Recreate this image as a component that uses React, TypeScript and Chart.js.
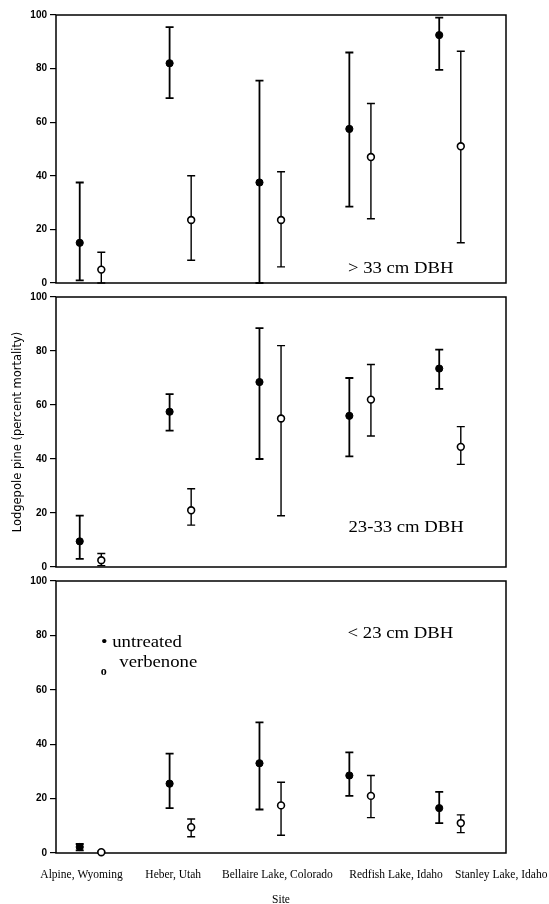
import React, { useEffect, useRef } from "react";
import { Chart, registerables } from "chart.js";

Chart.register(...registerables);

// ---------- data ----------
const sites = [
  "Alpine, Wyoming",
  "Heber, Utah",
  "Bellaire Lake, Colorado",
  "Redfish Lake, Idaho",
  "Stanley Lake, Idaho",
];
// where the site names sit on the x axis (site index units)
const siteLabelAt = [-0.1, 0.92, 2.08, 3.4, 4.57];
const yTicks = [0, 20, 40, 60, 80, 100];

// > 33 cm DBH
const untreatedLarge = [15, 82, 37.5, 57.5, 92.5];
const untreatedLargeLow = [1, 69, 0, 28.5, 79.5];
const untreatedLargeHigh = [37.5, 95.5, 75.5, 86, 99];
const verbenoneLarge = [5, 23.5, 23.5, 47, 51];
const verbenoneLargeLow = [0, 8.5, 6, 24, 15];
const verbenoneLargeHigh = [11.5, 40, 41.5, 67, 86.5];

// 23-33 cm DBH
const untreatedMid = [9.5, 57.5, 68.5, 56, 73.5];
const untreatedMidLow = [3, 50.5, 40, 41, 66];
const untreatedMidHigh = [19, 64, 88.5, 70, 80.5];
const verbenoneMid = [2.5, 21, 55, 62, 44.5];
const verbenoneMidLow = [0.5, 15.5, 19, 48.5, 38];
const verbenoneMidHigh = [5, 29, 82, 75, 52];

// < 23 cm DBH
const untreatedSmall = [2.2, 25.5, 33, 28.5, 16.5];
const untreatedSmallLow = [1, 16.5, 16, 21, 11];
const untreatedSmallHigh = [3.3, 36.5, 48, 37, 22.5];
const verbenoneSmall = [0.3, 9.5, 17.5, 21, 11];
const verbenoneSmallLow = [0, 6, 6.5, 13, 7.5];
const verbenoneSmallHigh = [0.6, 12.5, 26, 28.5, 14];

const panelLabels = ["> 33 cm DBH", "23-33 cm DBH", "< 23 cm DBH"];
const legendLabels = ["• untreated", "verbenone"];
const yTitle = "Lodgepole pine (percent mortality)";
const xTitle = "Site";

// ---------- plugins ----------
const boxPlugin = {
  id: "boxFrame",
  beforeDatasetsDraw(chart: any) {
    const { ctx, chartArea } = chart;
    ctx.save();
    ctx.strokeStyle = "#000";
    ctx.lineWidth = 1.5;
    ctx.strokeRect(chartArea.left, chartArea.top, chartArea.right - chartArea.left, chartArea.bottom - chartArea.top);
    ctx.restore();
  },
};

const errorBarPlugin = {
  id: "errorBars",
  beforeDatasetsDraw(chart: any) {
    const ctx = chart.ctx;
    const yScale = chart.scales.y;
    chart.data.datasets.forEach((ds: any, di: number) => {
      if (!ds.errLow) return;
      const meta = chart.getDatasetMeta(di);
      ctx.save();
      ctx.strokeStyle = "#000";
      ctx.lineWidth = ds.errWidth || 1.5;
      const cap = 4;
      meta.data.forEach((pt: any, i: number) => {
        const x = pt.x;
        const yl = yScale.getPixelForValue(ds.errLow[i]);
        const yh = yScale.getPixelForValue(ds.errHigh[i]);
        ctx.beginPath();
        ctx.moveTo(x, yl);
        ctx.lineTo(x, yh);
        ctx.moveTo(x - cap, yl);
        ctx.lineTo(x + cap, yl);
        ctx.moveTo(x - cap, yh);
        ctx.lineTo(x + cap, yh);
        ctx.stroke();
      });
      ctx.restore();
    });
  },
};

const textPlugin = {
  id: "panelText",
  afterDraw(chart: any, _args: any, opts: any) {
    const items = (opts && opts.items) || [];
    const { ctx } = chart;
    const xs = chart.scales.x;
    const ys = chart.scales.y;
    items.forEach((it: any) => {
      ctx.save();
      ctx.fillStyle = "#000";
      ctx.font = it.font;
      ctx.textAlign = "left";
      ctx.textBaseline = "alphabetic";
      ctx.translate(xs.getPixelForValue(it.x), ys.getPixelForValue(it.y));
      ctx.scale(it.sx || 1, 1);
      ctx.fillText(it.text, 0, 0);
      ctx.restore();
    });
  },
};

const SERIF = "'Liberation Serif', 'Times New Roman', serif";
const ANN_FONT = `16px ${SERIF}`;

function makeConfig(p: {
  u: number[]; uLow: number[]; uHigh: number[];
  v: number[]; vLow: number[]; vHigh: number[];
  bottom: boolean; yTitleOn: boolean; padTop: number; padBottom: number;
  texts: any[];
}) {
  const off = 0.12;
  return {
    type: "scatter",
    data: {
      datasets: [
        {
          label: "untreated",
          data: sites.map((_, i) => ({ x: i - off, y: p.u[i] })),
          errLow: p.uLow,
          errHigh: p.uHigh,
          errWidth: 1.8,
          pointRadius: 3.6,
          pointBackgroundColor: "#000",
          pointBorderColor: "#000",
          pointBorderWidth: 1,
          showLine: false,
          clip: false,
        },
        {
          label: "verbenone",
          data: sites.map((_, i) => ({ x: i + off, y: p.v[i] })),
          errLow: p.vLow,
          errHigh: p.vHigh,
          errWidth: 1.4,
          pointRadius: 3.4,
          pointBackgroundColor: "#fff",
          pointBorderColor: "#000",
          pointBorderWidth: 1.6,
          showLine: false,
          clip: false,
        },
      ],
    },
    options: {
      animation: false,
      responsive: false,
      maintainAspectRatio: false,
      events: [],
      layout: { padding: { left: 0, right: 43, top: p.padTop, bottom: p.padBottom } },
      plugins: {
        legend: { display: false },
        tooltip: { enabled: false },
        title: { display: false },
        panelText: { items: p.texts },
      },
      scales: {
        x: {
          type: "linear",
          min: -0.384,
          max: 4.623,
          display: p.bottom,
          grid: { display: false, drawTicks: false },
          border: { display: false },
          afterBuildTicks: (scale: any) => {
            scale.ticks = siteLabelAt.map((v) => ({ value: v }));
          },
          afterFit: (scale: any) => {
            if (p.bottom) scale.height = 51;
            scale.paddingLeft = 0;
            scale.paddingRight = 0;
          },
          ticks: {
            autoSkip: false,
            maxRotation: 0,
            minRotation: 0,
            padding: 15,
            color: "#000",
            font: { family: SERIF, size: 11.5 },
            callback: (_v: any, i: number) => sites[i],
          },
          title: {
            display: p.bottom,
            text: xTitle,
            color: "#000",
            font: { family: SERIF, size: 11.5 },
            padding: { top: 0, bottom: -3 },
          },
        },
        y: {
          type: "linear",
          min: 0,
          max: 100,
          afterBuildTicks: (scale: any) => {
            scale.ticks = yTicks.map((v) => ({ value: v }));
          },
          afterFit: (scale: any) => {
            scale.width = 56;
          },
          grid: {
            display: true,
            drawOnChartArea: false,
            drawTicks: true,
            tickLength: 6,
            color: "#000",
            lineWidth: 1.2,
          },
          border: { display: false },
          ticks: {
            padding: 3,
            color: "#000",
            font: { family: "'Liberation Sans', Arial, sans-serif", size: 10, weight: "bold" },
          },
          title: {
            display: p.yTitleOn,
            text: yTitle,
            color: "#000",
            font: { family: "'DejaVu Sans', sans-serif", size: 11.5 },
            padding: { top: 11, bottom: 0 },
          },
        },
      },
    },
    plugins: [boxPlugin, errorBarPlugin, textPlugin],
  };
}

function Panel(props: { top: number; height: number; config: any }) {
  const ref = useRef<HTMLCanvasElement | null>(null);
  useEffect(() => {
    if (!ref.current) return;
    const chart = new Chart(ref.current, props.config);
    return () => chart.destroy();
  }, []);
  return (
    <canvas
      ref={ref}
      width={549}
      height={props.height}
      style={{ position: "absolute", left: 0, top: props.top, width: 549, height: props.height }}
    />
  );
}

export default function App() {
  const sx = 1.17;
  const c1 = makeConfig({
    u: untreatedLarge, uLow: untreatedLargeLow, uHigh: untreatedLargeHigh,
    v: verbenoneLarge, vLow: verbenoneLargeLow, vHigh: verbenoneLargeHigh,
    bottom: false, yTitleOn: false, padTop: 15, padBottom: 7,
    texts: [{ text: panelLabels[0], x: 2.864, y: 3.7, font: ANN_FONT, sx }],
  });
  const c2 = makeConfig({
    u: untreatedMid, uLow: untreatedMidLow, uHigh: untreatedMidHigh,
    v: verbenoneMid, vLow: verbenoneMidLow, vHigh: verbenoneMidHigh,
    bottom: false, yTitleOn: true, padTop: 8, padBottom: 7,
    texts: [{ text: panelLabels[1], x: 2.87, y: 12.8, font: ANN_FONT, sx }],
  });
  const c3 = makeConfig({
    u: untreatedSmall, uLow: untreatedSmallLow, uHigh: untreatedSmallHigh,
    v: verbenoneSmall, vLow: verbenoneSmallLow, vHigh: verbenoneSmallHigh,
    bottom: true, yTitleOn: false, padTop: 8, padBottom: 0,
    texts: [
      { text: panelLabels[2], x: 2.86, y: 78.9, font: ANN_FONT, sx },
      { text: legendLabels[0], x: 0.117, y: 75.8, font: ANN_FONT, sx },
      { text: "o", x: 0.113, y: 65.5, font: `bold 12px ${SERIF}`, sx: 1 },
      { text: legendLabels[1], x: 0.32, y: 68.3, font: ANN_FONT, sx },
    ],
  });
  return (
    <div style={{ position: "fixed", left: 0, top: 0, width: 549, height: 904, background: "#fff" }}>
      <Panel top={0} height={292} config={c1} />
      <Panel top={288} height={288} config={c2} />
      <Panel top={572} height={332} config={c3} />
    </div>
  );
}
